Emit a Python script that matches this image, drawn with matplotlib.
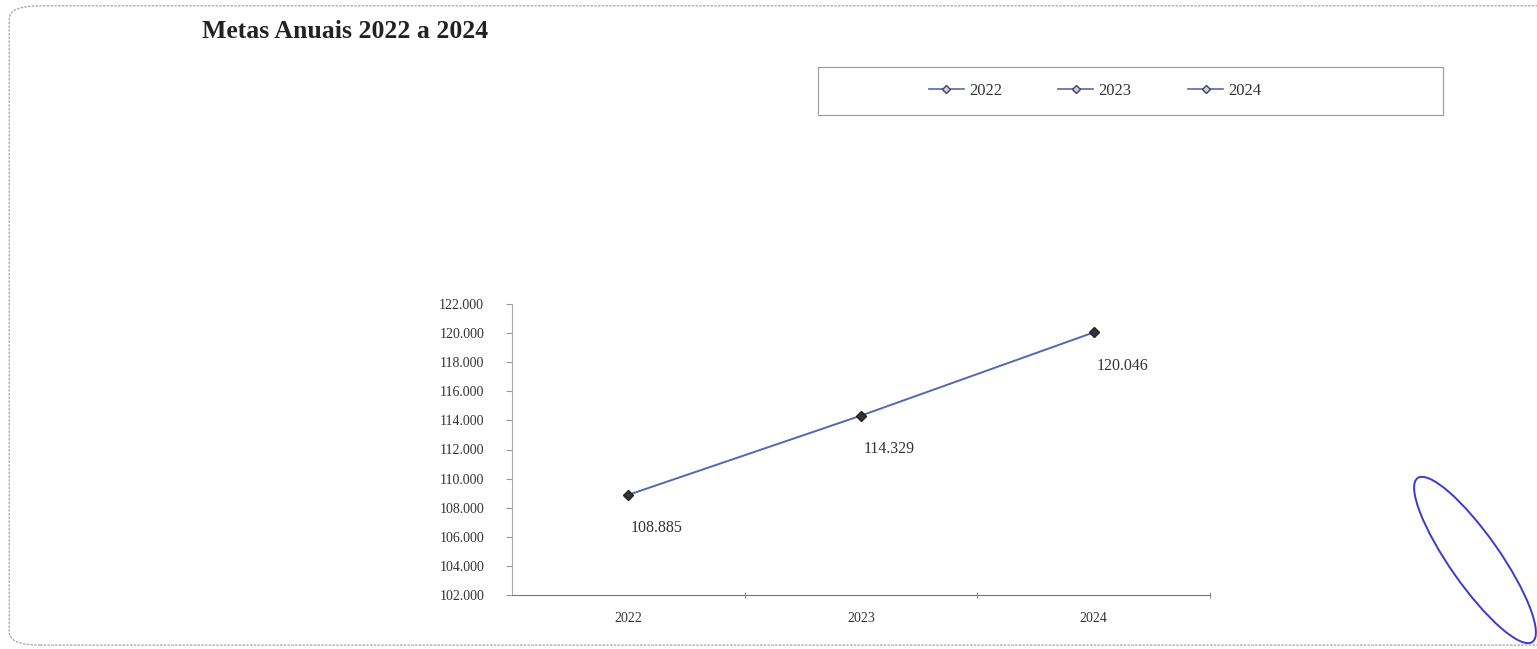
import matplotlib.pyplot as plt
from matplotlib.patches import FancyBboxPatch, Ellipse, Rectangle
from matplotlib.lines import Line2D
from matplotlib.ticker import FuncFormatter, FixedLocator

# dados
anos = ['2022', '2023', '2024']
metas = [108885, 114329, 120046]
rotulos = ['108.885', '114.329', '120.046']
legenda = ['2022', '2023', '2024']

cor_linha = '#5468b0'
fonte = 'Liberation Serif'
W, H = 1537, 649

fig = plt.figure(figsize=(W / 100, H / 100), dpi=100)

# moldura arredondada
moldura = FancyBboxPatch((0.006, 0.006), 1.2, 0.985, boxstyle='round,pad=0,rounding_size=0.02',
                         transform=fig.transFigure, fill=False, edgecolor='#a5a5a5',
                         linewidth=0.9, linestyle=(0, (2, 1)))
fig.patches.append(moldura)

fig.text(202 / W, 1 - 31 / H, 'Metas Anuais 2022 a 2024', fontsize=18.5, fontweight='bold',
         family=fonte, ha='left', va='center', color='#222222')

ax = fig.add_axes([512 / W, 1 - 595 / H, 698 / W, 291 / H])
x = list(range(len(anos)))
ax.plot(x, metas, color=cor_linha, linewidth=1.4, marker='D', markersize=5,
        markerfacecolor='#333333', markeredgecolor='#222222', zorder=3)

for xi, yi, txt in zip(x, metas, rotulos):
    ax.annotate(txt, (xi, yi), xytext=(2, -24), textcoords='offset points',
                ha='left', va='center', fontsize=11.5, family=fonte, color='#333333')

ax.set_xlim(-0.5, 2.5)
ax.set_ylim(102000, 122000)
ax.set_yticks(range(102000, 122001, 2000))
ax.yaxis.set_major_formatter(FuncFormatter(lambda v, p: f'{int(v):,}'.replace(',', '.')))
ax.set_xticks(x)
ax.set_xticklabels(anos)
ax.xaxis.set_minor_locator(FixedLocator([0.5, 1.5, 2.5]))
ax.tick_params(axis='x', which='major', length=0, pad=12, labelsize=10, labelcolor='#333333')
ax.tick_params(axis='x', which='minor', length=4, direction='inout', color='#777777')
ax.tick_params(axis='y', length=4, color='#999999', labelsize=10, labelcolor='#333333', pad=16)
for lbl in ax.get_xticklabels() + ax.get_yticklabels():
    lbl.set_family(fonte)

ax.spines['top'].set_visible(False)
ax.spines['right'].set_visible(False)
ax.spines['left'].set_color('#aaaaaa')
ax.spines['bottom'].set_color('#777777')
ax.spines['left'].set_linewidth(0.8)
ax.spines['bottom'].set_linewidth(0.8)

# caixa da legenda
caixa = Rectangle((818 / W, 1 - 115 / H), 625 / W, 48 / H, transform=fig.transFigure,
                  fill=False, edgecolor='#999999', linewidth=0.8)
fig.patches.append(caixa)

# legenda com as tres categorias
alcas = [Line2D([0], [0], color=cor_linha, linewidth=1.2, marker='D', markersize=4,
                markerfacecolor='#c8cde0', markeredgecolor='#445') for _ in legenda]
leg = fig.legend(alcas, legenda, loc='center', bbox_to_anchor=(1095 / W, 1 - 91 / H),
                 ncol=3, frameon=False, columnspacing=3.4, handlelength=2.1,
                 handletextpad=0.3, prop={'family': fonte, 'size': 12})
for t in leg.get_texts():
    t.set_color('#333333')

# rubrica azul no canto
rubrica = Ellipse((14.75, (H - 560) / 100), 2.0, 0.5, angle=-55, transform=fig.dpi_scale_trans,
                  fill=False, edgecolor='#3a3ad0', linewidth=1.4)
fig.patches.append(rubrica)

fig.savefig('out.png', dpi=100)
